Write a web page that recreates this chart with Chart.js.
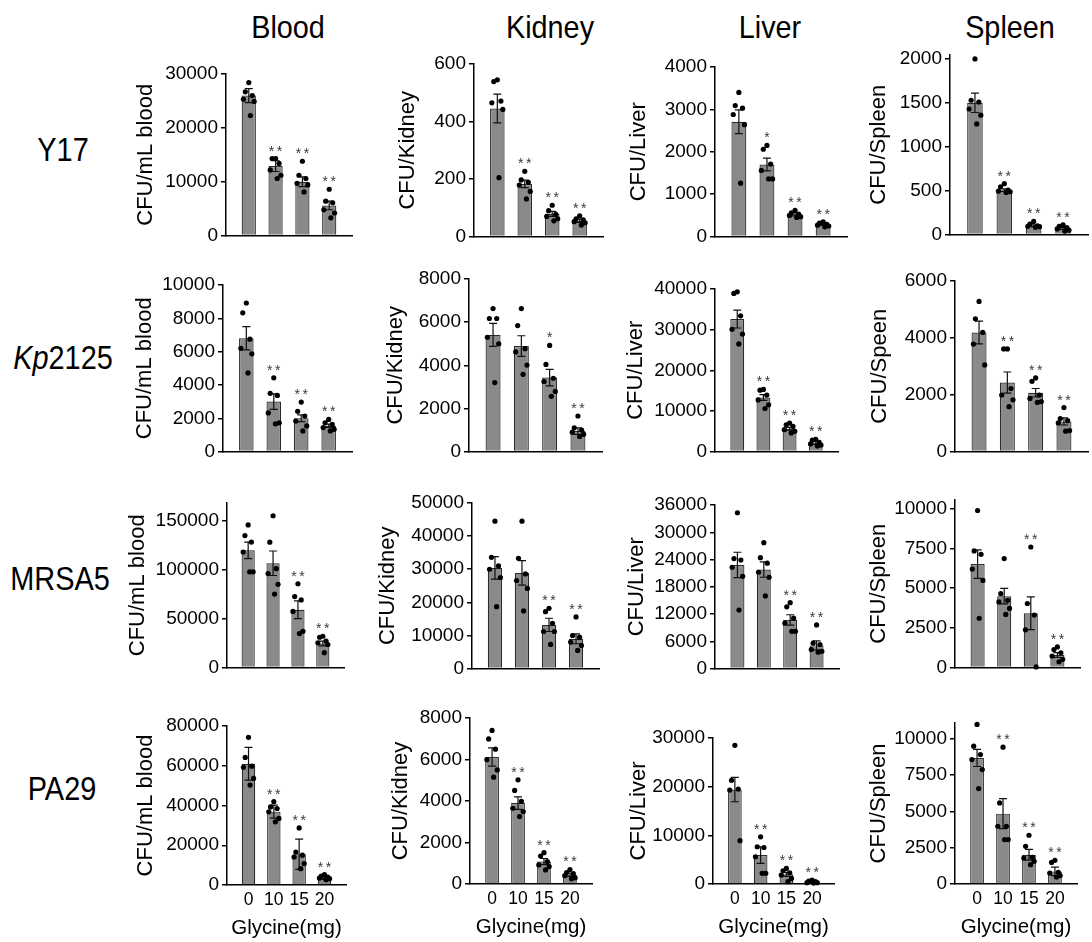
<!DOCTYPE html>
<html><head><meta charset="utf-8">
<script src="https://cdn.jsdelivr.net/npm/chart.js@4.4.1/dist/chart.umd.min.js"></script>
<style>
html,body{margin:0;padding:0;background:#fff;}
#wrap{position:relative;width:1092px;height:942px;overflow:hidden;font-family:'Liberation Sans',Arial,sans-serif;}
.lab{position:absolute;width:200px;text-align:center;line-height:1;white-space:nowrap;color:#000;}
canvas{position:absolute;}
</style></head><body><div id="wrap"></div>
<script>
// ---------- categories / labels ----------
const groups = ['0', '10', '15', '20'];
const xTitle = 'Glycine(mg)';
const organs = ['Blood', 'Kidney', 'Liver', 'Spleen'];
const strains = ['Y17', 'Kp2125', 'MRSA5', 'PA29'];

// ---------- Y17 ----------
const y17BloodMean = [26000, 12900, 10000, 5600];
const y17BloodSem = [1300, 1000, 900, 800];
const y17BloodPts = [[28400, 26700, 26000, 25300, 24900, 22300], [14300, 14300, 13400, 12200, 11200, 10600], [13800, 11200, 10600, 9700, 9400, 8100], [8600, 6400, 6100, 4800, 4200, 3300]];
const y17BloodSig = ['', '**', '**', '**'];
const y17BloodTicks = [0, 10000, 20000, 30000];

const y17KidneyMean = [445, 183, 79, 55];
const y17KidneySem = [50, 13, 9, 6];
const y17KidneyPts = [[545, 539, 471, 465, 442, 205], [227, 197, 189, 179, 157, 131], [109, 90, 77, 70, 62, 55], [72, 62, 58, 52, 48, 40]];
const y17KidneySig = ['', '**', '**', '**'];
const y17KidneyTicks = [0, 200, 400, 600];

const y17LiverMean = [2710, 1700, 527, 295];
const y17LiverSem = [280, 150, 40, 30];
const y17LiverPts = [[3400, 3090, 3030, 2880, 2640, 1260], [2150, 2060, 1710, 1560, 1360, 1360], [620, 560, 530, 500, 470, 450], [350, 320, 290, 270, 250, 230]];
const y17LiverSig = ['', '*', '**', '**'];
const y17LiverTicks = [0, 1000, 2000, 3000, 4000];

const y17SpleenMean = [1500, 506, 101, 70];
const y17SpleenSem = [110, 15, 10, 10];
const y17SpleenPts = [[2000, 1530, 1510, 1430, 1360, 1260], [580, 545, 506, 495, 488, 480], [150, 120, 101, 94, 90, 83], [110, 95, 80, 65, 50, 40]];
const y17SpleenSig = ['', '**', '**', '**'];
const y17SpleenTicks = [0, 500, 1000, 1500, 2000];

// ---------- Kp2125 ----------
const kpBloodMean = [6800, 3000, 2000, 1550];
const kpBloodSem = [700, 470, 200, 100];
const kpBloodPts = [[8920, 8330, 6750, 6200, 5870, 4720], [4430, 3500, 3370, 2320, 1730, 1670], [2970, 2420, 2130, 1830, 1540, 1240], [1930, 1730, 1630, 1440, 1340, 1240]];
const kpBloodSig = ['', '**', '**', '**'];
const kpBloodTicks = [0, 2000, 4000, 6000, 8000, 10000];

const kpKidneyMean = [5410, 4890, 3430, 950];
const kpKidneySem = [530, 480, 380, 150];
const kpKidneyPts = [[6630, 6170, 6170, 5300, 5000, 3200], [6630, 5840, 4770, 4620, 4010, 3580], [4920, 4040, 3400, 3250, 2790, 2560], [1650, 1100, 1000, 900, 800, 700]];
const kpKidneySig = ['', '', '*', '**'];
const kpKidneyTicks = [0, 2000, 4000, 6000, 8000];

const kpLiverMean = [32600, 13300, 5600, 2200];
const kpLiverSem = [2200, 700, 350, 400];
const kpLiverPts = [[39300, 38900, 33400, 30100, 28900, 26500], [15300, 15100, 13900, 12700, 11500, 10600], [7000, 6600, 6200, 5400, 5000, 4600], [3000, 2800, 2300, 1900, 1600, 1400]];
const kpLiverSig = ['', '**', '**', '**'];
const kpLiverTicks = [0, 10000, 20000, 30000, 40000];

const kpSpleenMean = [4190, 2430, 2070, 1060];
const kpSpleenSem = [400, 370, 150, 125];
const kpSpleenPts = [[5280, 4670, 4190, 3780, 3050], [3610, 3610, 2220, 1990, 1820, 1580], [2590, 2470, 1990, 1870, 1760, 1730], [1550, 1160, 1090, 1010, 740, 720]];
const kpSpleenSig = ['', '**', '**', '**'];
const kpSpleenTicks = [0, 2000, 4000, 6000];

// ---------- MRSA5 ----------
const mrsaBloodMean = [119700, 106500, 59000, 24600];
const mrsaBloodSem = [8400, 12500, 9100, 2500];
const mrsaBloodPts = [[145600, 134800, 128100, 118000, 97800, 97800], [155000, 128000, 101000, 96000, 85000, 75000], [85600, 72500, 69100, 57300, 37100, 34700], [32000, 31000, 27000, 25300, 23600, 15200]];
const mrsaBloodSig = ['', '', '**', '**'];
const mrsaBloodTicks = [0, 50000, 100000, 150000];

const mrsaKidneyMean = [30400, 28900, 13200, 9000];
const mrsaKidneySem = [3400, 3700, 2000, 1500];
const mrsaKidneyPts = [[44500, 33600, 31000, 30000, 27500, 18700], [44500, 33300, 28600, 26600, 24200, 17400], [18200, 17200, 13700, 11200, 11200, 7300], [15600, 10000, 9500, 8000, 7000, 5500]];
const mrsaKidneySig = ['', '', '**', '**'];
const mrsaKidneyTicks = [0, 10000, 20000, 30000, 40000, 50000];

const mrsaLiverMean = [22800, 21800, 10700, 5100];
const mrsaLiverSem = [2800, 1700, 1150, 1000];
const mrsaLiverPts = [[34300, 24200, 23900, 22300, 20300, 12900], [27700, 24400, 23200, 21200, 20100, 16000], [14500, 13600, 11100, 10000, 8200, 8200], [9600, 5600, 5300, 4200, 3800, 3600]];
const mrsaLiverSig = ['', '', '**', '**'];
const mrsaLiverTicks = [0, 6000, 12000, 18000, 24000, 30000, 36000];

const mrsaSpleenMean = [6520, 4500, 3420, 790];
const mrsaSpleenSem = [900, 490, 1030, 150];
const mrsaSpleenPts = [[9900, 7350, 7140, 6210, 5490, 3110], [6870, 4660, 4240, 4140, 3730, 3350], [7600, 4040, 3310, 2380, 40], [1300, 1140, 930, 730, 520, 370]];
const mrsaSpleenSig = ['', '', '**', '**'];
const mrsaSpleenTicks = [0, 2500, 5000, 7500, 10000];

// ---------- PA29 ----------
const paBloodMean = [61000, 36900, 15500, 3500];
const paBloodSem = [8200, 3300, 7600, 700];
const paBloodPts = [[74300, 64200, 59800, 59200, 53600, 50300], [41900, 39300, 38500, 36800, 33500, 31800], [28700, 16600, 15000, 14100, 10800, 8200], [5200, 4500, 4000, 3500, 3200, 2700]];
const paBloodSig = ['', '**', '**', '**'];
const paBloodTicks = [0, 20000, 40000, 60000, 80000];

const paKidneyMean = [6120, 3900, 1080, 450];
const paKidneySem = [440, 300, 150, 80];
const paKidneyPts = [[7400, 6990, 6500, 5990, 5500, 5150], [5020, 4510, 3980, 3650, 3490, 3250], [1510, 1350, 1080, 920, 840, 680], [700, 550, 500, 400, 300, 250]];
const paKidneySig = ['', '**', '**', '**'];
const paKidneyTicks = [0, 2000, 4000, 6000, 8000];

const paLiverMean = [19400, 5950, 1980, 410];
const paLiverSem = [2500, 1700, 400, 100];
const paLiverPts = [[28500, 21300, 19500, 19300, 8900], [9700, 7650, 7500, 5600, 2200, 2200], [3200, 2700, 2300, 1850, 1150, 480], [820, 620, 480, 270, 270, 200]];
const paLiverSig = ['', '**', '**', '**'];
const paLiverTicks = [0, 10000, 20000, 30000];

const paSpleenMean = [8690, 4850, 2020, 870];
const paSpleenSem = [590, 1030, 370, 290];
const paSpleenPts = [[11000, 9500, 8920, 8580, 7890, 6580], [9430, 5590, 3980, 3980, 3060, 3060], [3360, 2600, 1840, 1790, 1560, 1330], [1630, 1490, 810, 760, 580, 480]];
const paSpleenSig = ['', '**', '**', '**'];
const paSpleenTicks = [0, 2500, 5000, 7500, 10000];

// y-axis maxima (value at top of each axis line) and axis titles
const yMax = [[30000, 600, 4000, 2045], [10000, 8000, 40000, 6000], [168000, 50000, 36000, 10560], [80000, 8000, 30000, 11100]];
const yTitles = [['CFU/mL blood', 'CFU/Kidney', 'CFU/Liver', 'CFU/Spleen'],
                 ['CFU/mL blood', 'CFU/Kidney', 'CFU/Liver', 'CFU/Speen'],
                 ['CFU/mL blood', 'CFU/Kidney', 'CFU/Liver', 'CFU/Spleen'],
                 ['CFU/mL blood', 'CFU/Kidney', 'CFU/Liver', 'CFU/Spleen']];

const panelData = [
  [[y17BloodMean, y17BloodSem, y17BloodPts, y17BloodSig, y17BloodTicks], [y17KidneyMean, y17KidneySem, y17KidneyPts, y17KidneySig, y17KidneyTicks], [y17LiverMean, y17LiverSem, y17LiverPts, y17LiverSig, y17LiverTicks], [y17SpleenMean, y17SpleenSem, y17SpleenPts, y17SpleenSig, y17SpleenTicks]],
  [[kpBloodMean, kpBloodSem, kpBloodPts, kpBloodSig, kpBloodTicks], [kpKidneyMean, kpKidneySem, kpKidneyPts, kpKidneySig, kpKidneyTicks], [kpLiverMean, kpLiverSem, kpLiverPts, kpLiverSig, kpLiverTicks], [kpSpleenMean, kpSpleenSem, kpSpleenPts, kpSpleenSig, kpSpleenTicks]],
  [[mrsaBloodMean, mrsaBloodSem, mrsaBloodPts, mrsaBloodSig, mrsaBloodTicks], [mrsaKidneyMean, mrsaKidneySem, mrsaKidneyPts, mrsaKidneySig, mrsaKidneyTicks], [mrsaLiverMean, mrsaLiverSem, mrsaLiverPts, mrsaLiverSig, mrsaLiverTicks], [mrsaSpleenMean, mrsaSpleenSem, mrsaSpleenPts, mrsaSpleenSig, mrsaSpleenTicks]],
  [[paBloodMean, paBloodSem, paBloodPts, paBloodSig, paBloodTicks], [paKidneyMean, paKidneySem, paKidneyPts, paKidneySig, paKidneyTicks], [paLiverMean, paLiverSem, paLiverPts, paLiverSig, paLiverTicks], [paSpleenMean, paSpleenSem, paSpleenPts, paSpleenSig, paSpleenTicks]]
];

// ---------- layout (pixel geometry of each panel's axes) ----------
const axisL = [[226, 474, 715, 950], [223, 469, 715, 955], [227, 472, 715, 955], [227, 470, 713, 955]];
const axisR = [[352, 603, 847, 1088], [352, 602, 838, 1088], [344, 599, 839, 1080], [346, 592, 834, 1077]];
const axisT = [[74, 64, 67, 55], [285, 279, 289, 281], [503, 503, 505, 500], [726, 718, 738, 723]];
const axisB = [[238, 239, 239, 237], [454, 454, 454, 454], [670, 671, 671, 670], [885, 884, 884, 884]];
const titleDx = [[-80, -66.5, -76, -71.5], [-78, -73, -79, -75], [-88.7, -83.7, -78, -76], [-80.7, -69, -74, -76]];
const colCenters = [287.5, 550, 770, 1010];
const rowCenters = [62.7, 63.3, 60, 62];
const rowTops = [132, 339.5, 561, 771];
const jitter = [0, -0.13, 0.13, -0.2, 0.2, 0.06];

Chart.defaults.font.family = "'Liberation Sans', Arial, Helvetica, sans-serif";
Chart.defaults.color = '#000';

const wrap = document.getElementById('wrap');

// column titles
organs.forEach((o, c) => {
  const d = document.createElement('div');
  d.className = 'lab';
  d.style.fontSize = '32px';
  d.style.left = (colCenters[c] - 100) + 'px';
  d.style.top = '11px';
  d.style.transform = 'scaleX(0.9)';
  d.textContent = o;
  wrap.appendChild(d);
});
// row labels
strains.forEach((s, r) => {
  const d = document.createElement('div');
  d.className = 'lab';
  d.style.fontSize = '34px';
  d.style.left = (rowCenters[r] - 100) + 'px';
  d.style.top = rowTops[r] + 'px';
  d.style.transform = 'scaleX(0.85)';
  if (s.startsWith('Kp')) {
    const i = document.createElement('i');
    i.textContent = 'Kp';
    d.appendChild(i);
    d.appendChild(document.createTextNode(s.slice(2)));
  } else d.textContent = s;
  wrap.appendChild(d);
});

function buildPanel(r, c) {
  const [mean, sem, pts, sig, ticks] = panelData[r][c];
  const L = axisL[r][c], R = axisR[r][c], T = axisT[r][c], B = axisB[r][c];
  const isBottom = r === strains.length - 1;
  const YW = 110, PT = 26, PR = 8;
  const XH = isBottom ? 56 : 0, PB = isBottom ? 0 : 12;
  const w = YW + (R - L) + PR, h = PT + (B - T) + XH + PB;
  const cv = document.createElement('canvas');
  cv.width = w; cv.height = h;
  cv.style.left = (L - YW) + 'px'; cv.style.top = (T - PT) + 'px';
  cv.style.width = w + 'px'; cv.style.height = h + 'px';
  wrap.appendChild(cv);

  const scatter = [];
  pts.forEach((arr, i) => arr.forEach((v, k) => scatter.push({ x: i + jitter[k % jitter.length], y: v })));
  const titleLH = 22 * 1.2;
  const titleTop = YW + titleDx[r][c] - titleLH / 2;

  const errPlugin = {
    id: 'errbars',
    afterDatasetDraw(chart, args) {
      if (args.index !== 0) return;
      const ctx = chart.ctx, xs = chart.scales.x, ys = chart.scales.y;
      ctx.save();
      ctx.strokeStyle = '#111'; ctx.lineWidth = 1.2;
      mean.forEach((m, i) => {
        const x = xs.getPixelForValue(i);
        const y1 = ys.getPixelForValue(m + sem[i]);
        const y2 = ys.getPixelForValue(Math.max(0, m - sem[i]));
        ctx.beginPath();
        ctx.moveTo(x, y1); ctx.lineTo(x, y2);
        ctx.moveTo(x - 4, y1); ctx.lineTo(x + 4, y1);
        ctx.moveTo(x - 4, y2); ctx.lineTo(x + 4, y2);
        ctx.stroke();
      });
      ctx.restore();
    },
    afterDatasetsDraw(chart) {
      const ctx = chart.ctx, xs = chart.scales.x, ys = chart.scales.y;
      ctx.save();
      ctx.fillStyle = '#3a3a3a';
      ctx.font = "14px 'Liberation Sans', Arial, sans-serif";
      ctx.textAlign = 'center'; ctx.textBaseline = 'alphabetic';
      sig.forEach((s, i) => {
        if (!s) return;
        const top = Math.max(Math.max(...pts[i]), mean[i] + sem[i]);
        const cy = ys.getPixelForValue(top) - 11;
        const cx = xs.getPixelForValue(i);
        const n = s.length;
        for (let k = 0; k < n; k++) ctx.fillText('*', cx + (k - (n - 1) / 2) * 8, cy + 8);
      });
      ctx.restore();
    }
  };

  new Chart(cv, {
    type: 'bar',
    data: {
      datasets: [
        { type: 'bar', data: mean.map((v, i) => ({ x: i, y: v })), backgroundColor: '#8a8a8a', borderColor: '#2b2b2b', borderWidth: 1.2, categoryPercentage: 1, barPercentage: 0.53, order: 2 },
        { type: 'scatter', data: scatter, pointRadius: 2.6, pointHoverRadius: 2.6, pointBackgroundColor: '#000', pointBorderWidth: 0, borderWidth: 0, showLine: false, clip: false, order: 1 }
      ]
    },
    options: {
      responsive: false, animation: false, devicePixelRatio: 1,
      layout: { padding: { left: 0, top: PT, right: PR, bottom: PB } },
      plugins: { legend: { display: false }, tooltip: { enabled: false } },
      events: [],
      scales: {
        x: {
          type: 'linear', min: -0.85, max: 3.85, offset: false, bounds: 'data',
          afterBuildTicks: s => { s.ticks = groups.map((g, i) => ({ value: i })); },
          afterFit: s => { s.height = XH; },
          grid: { display: false, drawTicks: false },
          border: { display: true, color: '#000', width: 1.5 },
          ticks: { display: isBottom, padding: 5, font: { size: 17.5 }, color: '#000', callback: v => groups[v] ?? '', maxRotation: 0, autoSkip: false },
          title: { display: isBottom, text: xTitle, font: { size: 20.5 }, padding: { top: 0, bottom: 0 }, color: '#000' }
        },
        y: {
          type: 'linear', min: 0, max: yMax[r][c], bounds: 'data',
          afterBuildTicks: s => { s.ticks = ticks.map(v => ({ value: v })); },
          afterFit: s => { s.width = YW; },
          grid: { drawOnChartArea: false, drawTicks: true, tickLength: 5, color: '#000', tickColor: '#000', lineWidth: 1.5, tickWidth: 1.5 },
          border: { display: true, color: '#000', width: 1.5 },
          ticks: { padding: 3, font: { size: 19 }, color: '#000', callback: v => String(v), autoSkip: false },
          title: { display: true, text: yTitles[r][c], font: { size: 22 }, padding: { top: titleTop, bottom: 0 }, color: '#000' }
        }
      }
    },
    plugins: [errPlugin]
  });
}

for (let r = 0; r < strains.length; r++)
  for (let c = 0; c < organs.length; c++) buildPanel(r, c);
</script></body></html>
